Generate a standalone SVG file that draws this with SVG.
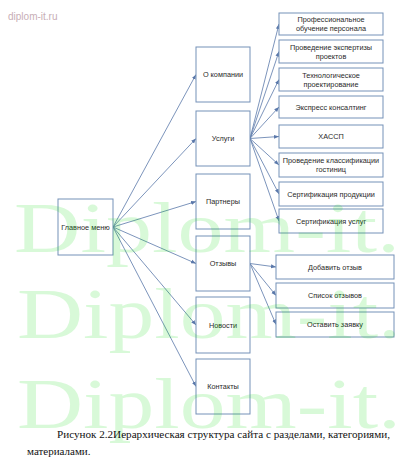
<svg xmlns="http://www.w3.org/2000/svg" width="401" height="460" viewBox="0 0 401 460">
<style>
.box{fill:#fff;stroke:#7491b8;stroke-width:1}
.t{font-family:"Liberation Sans",Arial,sans-serif;font-size:7.3px;fill:#2a2a2a;text-anchor:middle;dominant-baseline:central}
.c{stroke:#5a78aa;stroke-width:0.8;fill:none;marker-end:url(#ah)}
.wm{font-family:"Liberation Serif","Times New Roman",serif;font-size:72px;fill:#00dd00;opacity:0.15}
.cap{font-family:"Liberation Serif","Times New Roman",serif;font-size:11px;fill:#111}
</style>
<defs>
<marker id="ah" viewBox="0 0 10 10" refX="10" refY="5" markerWidth="5" markerHeight="5" orient="auto" markerUnits="userSpaceOnUse">
<path d="M0,1 L10,5 L0,9 z" fill="#5a78aa"/>
</marker>
</defs>
<rect width="401" height="460" fill="#fff"/>
<text x="8" y="20" style="font-family:'Liberation Sans',Arial,sans-serif;font-size:10px;fill:#c8aeb6">diplom-it.ru</text>

<g id="connectors">
<line class="c" x1="113" y1="227" x2="196" y2="74.5"/>
<line class="c" x1="113" y1="227" x2="196" y2="138.5"/>
<line class="c" x1="113" y1="227" x2="196" y2="201.5"/>
<line class="c" x1="113" y1="227" x2="196" y2="263.5"/>
<line class="c" x1="113" y1="227" x2="196" y2="325"/>
<line class="c" x1="113" y1="227" x2="196" y2="386.5"/>
<line class="c" x1="250" y1="138.5" x2="279" y2="24"/>
<line class="c" x1="250" y1="138.5" x2="279" y2="51.5"/>
<line class="c" x1="250" y1="138.5" x2="279" y2="79.5"/>
<line class="c" x1="250" y1="138.5" x2="279" y2="107"/>
<line class="c" x1="250" y1="138.5" x2="279" y2="136.5"/>
<line class="c" x1="250" y1="138.5" x2="279" y2="165"/>
<line class="c" x1="250" y1="138.5" x2="279" y2="194"/>
<line class="c" x1="250" y1="138.5" x2="279" y2="221"/>
<line class="c" x1="250" y1="263.5" x2="276" y2="267"/>
<line class="c" x1="250" y1="263.5" x2="276" y2="295.5"/>
<line class="c" x1="250" y1="263.5" x2="276" y2="324.5"/>
</g>

<g id="main"><rect class="box" x="58" y="199" width="55" height="56"/><text class="t" x="85.5" y="227">Главное меню</text></g>

<g id="about"><rect class="box" x="196" y="47" width="54" height="55"/><text class="t" x="223" y="74.5">О компании</text></g>
<g id="services"><rect class="box" x="196" y="111" width="54" height="55"/><text class="t" x="223" y="138.5">Услуги</text></g>
<g id="partners"><rect class="box" x="196" y="174" width="54" height="55"/><text class="t" x="223" y="201.5">Партнеры</text></g>
<g id="reviews"><rect class="box" x="196" y="236" width="54" height="55"/><text class="t" x="223" y="263.5">Отзывы</text></g>
<g id="news"><rect class="box" x="196" y="297" width="54" height="56"/><text class="t" x="223" y="325">Новости</text></g>
<g id="contacts"><rect class="box" x="196" y="359" width="54" height="55"/><text class="t" x="223" y="386.5">Контакты</text></g>

<g id="s1"><rect class="box" x="279" y="13" width="104" height="22"/><text class="t" x="331" y="19.5">Профессиональное</text><text class="t" x="331" y="28.5">обучение персонала</text></g>
<g id="s2"><rect class="box" x="279" y="40" width="104" height="23"/><text class="t" x="331" y="47">Проведение экспертизы</text><text class="t" x="331" y="56">проектов</text></g>
<g id="s3"><rect class="box" x="279" y="68" width="104" height="23"/><text class="t" x="331" y="75">Технологическое</text><text class="t" x="331" y="84">проектирование</text></g>
<g id="s4"><rect class="box" x="279" y="96" width="104" height="22"/><text class="t" x="331" y="107">Экспресс консалтинг</text></g>
<g id="s5"><rect class="box" x="279" y="125" width="104" height="23"/><text class="t" x="331" y="136.5">ХАССП</text></g>
<g id="s6"><rect class="box" x="279" y="153" width="104" height="24"/><text class="t" x="331" y="160.5">Проведение классификации</text><text class="t" x="331" y="169.5">гостиниц</text></g>
<g id="s7"><rect class="box" x="279" y="182" width="104" height="24"/><text class="t" x="331" y="194">Сертификация продукции</text></g>
<g id="s8"><rect class="box" x="279" y="209" width="104" height="24"/><text class="t" x="331" y="221">Сертификация услуг</text></g>

<g id="r1"><rect class="box" x="276" y="255" width="118" height="24"/><text class="t" x="335" y="267">Добавить отзыв</text></g>
<g id="r2"><rect class="box" x="276" y="283" width="118" height="25"/><text class="t" x="335" y="295.5">Список отзывов</text></g>
<g id="r3"><rect class="box" x="276" y="312" width="118" height="25"/><text class="t" x="335" y="324.5">Оставить заявку</text></g>

<text class="wm" x="14" y="252" textLength="386" lengthAdjust="spacingAndGlyphs">Diplom-it.</text>
<text class="wm" x="17" y="338" textLength="384" lengthAdjust="spacingAndGlyphs">Diplom-it.</text>
<text class="wm" x="17" y="428" textLength="384" lengthAdjust="spacingAndGlyphs">Diplom-it.</text>

<text class="cap" x="57" y="438" textLength="333" lengthAdjust="spacingAndGlyphs">Рисунок 2.2Иерархическая структура сайта с разделами, категориями,</text>
<text class="cap" x="27" y="455">материалами.</text>
</svg>
